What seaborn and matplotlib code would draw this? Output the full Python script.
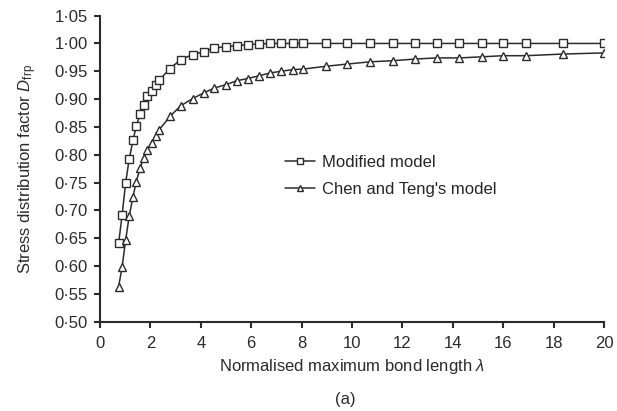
import numpy as np
import pandas as pd
import matplotlib
matplotlib.use('Agg')
import matplotlib.pyplot as plt
from matplotlib.ticker import FuncFormatter, MultipleLocator
import seaborn as sns

# normalised bond length (lambda) at each marker
lam = [0.74, 0.88, 1.02, 1.16, 1.31, 1.44, 1.59, 1.73, 1.88, 2.05, 2.21, 2.35,
       2.78, 3.20, 3.68, 4.11, 4.54, 5.00, 5.42, 5.86, 6.32, 6.75, 7.17, 7.65,
       8.07, 8.97, 9.81, 10.71, 11.62, 12.51, 13.36, 14.26, 15.16, 16.00, 16.90,
       18.38, 20.0]

modified = [0.641, 0.692, 0.750, 0.792, 0.826, 0.851, 0.873, 0.890, 0.905, 0.915,
            0.926, 0.934, 0.955, 0.971, 0.980, 0.985, 0.992, 0.994, 0.996, 0.998,
            0.999, 1.000, 1.000, 1.000, 1.000, 1.000, 1.000, 1.000, 1.000, 1.000,
            1.000, 1.000, 1.000, 1.000, 1.000, 1.000, 1.000]

chen_teng = [0.563, 0.599, 0.647, 0.690, 0.724, 0.752, 0.776, 0.794, 0.809, 0.822,
             0.834, 0.845, 0.869, 0.888, 0.901, 0.911, 0.920, 0.926, 0.933, 0.937,
             0.942, 0.947, 0.950, 0.953, 0.954, 0.959, 0.963, 0.967, 0.969, 0.972,
             0.974, 0.974, 0.976, 0.978, 0.978, 0.981, 0.983]

series_names = ['Modified model', "Chen and Teng's model"]

sns.set_style('ticks')
plt.rcParams['font.family'] = ['Liberation Sans', 'DejaVu Sans']
plt.rcParams['mathtext.fontset'] = 'custom'
plt.rcParams['mathtext.rm'] = 'Liberation Sans'
plt.rcParams['mathtext.it'] = 'Liberation Sans:italic'

ink = '#2b2b2b'
fs = 12

fig = plt.figure(figsize=(6.17, 4.11), dpi=100)
ax = fig.add_axes([0.162, 0.217, 0.817, 0.745])

style = dict(markerfacecolor='white', markeredgecolor=ink, markeredgewidth=1.0,
             color=ink, linewidth=1.1)
sns.lineplot(x=lam, y=modified, marker='s', markersize=5.5, label=series_names[0], ax=ax, **style)
sns.lineplot(x=lam, y=chen_teng, marker='^', markersize=6.3, label=series_names[1], ax=ax, **style)

ax.set_xlim(0, 20)
ax.set_ylim(0.5, 1.05)
ax.xaxis.set_major_locator(MultipleLocator(2))
ax.yaxis.set_major_locator(MultipleLocator(0.05))
ax.yaxis.set_major_formatter(FuncFormatter(lambda v, p: f'{v:.2f}'.replace('.', '\u00b7')))
ax.tick_params(direction='out', length=4.3, width=1.5, color=ink, labelsize=fs,
               labelcolor=ink)
ax.tick_params(axis='x', pad=6)
ax.tick_params(axis='y', pad=4.5)
for s in ['top', 'right']:
    ax.spines[s].set_visible(False)
for s in ['left', 'bottom']:
    ax.spines[s].set_linewidth(1.5)
    ax.spines[s].set_color(ink)

ax.set_xlabel('Normalised maximum bond length $\\lambda$', fontsize=fs, color=ink, labelpad=4)
ax.set_ylabel('Stress distribution factor $D_{\\mathrm{frp}}$', fontsize=fs, color=ink, labelpad=11)
fig.text(0.56, 0.029, '(a)', ha='center', va='center', fontsize=fs, color=ink)

ax.legend(loc='upper left', bbox_to_anchor=(0.367, 0.545), frameon=False, fontsize=fs,
          handlelength=1.8, handletextpad=0.45, labelspacing=0.72, borderpad=0,
          borderaxespad=0, markerscale=0.7)

fig.savefig('out.png', dpi=100)
